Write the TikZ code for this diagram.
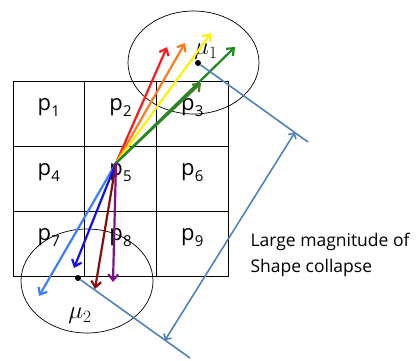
\documentclass[tikz,border=0pt]{standalone}
\usepackage{fontspec}
\setmainfont{Open Sans}
\usepackage{xcolor}
\usetikzlibrary{arrows.meta, positioning, calc}
\definecolor{vecRed}{HTML}{FF1A1A}
\definecolor{vecOrange}{HTML}{FF7A1A}
\definecolor{vecYellow}{HTML}{FFF200}
\definecolor{vecOlive}{HTML}{4E7A2C}
\definecolor{vecGreen}{HTML}{1E8A1E}
\definecolor{vecSky}{HTML}{3F7FFF}
\definecolor{vecBlue}{HTML}{1010F0}
\definecolor{vecMaroon}{HTML}{8B0A0A}
\definecolor{vecPurple}{HTML}{7A1488}
\definecolor{gaugeBlue}{HTML}{4F81BD}
\newcommand{\patch}[1]{p\kern0.3pt\raisebox{-6pt}{\fontsize{15}{15}\selectfont #1}}

\begin{document}
\begin{tikzpicture}[
  x=1pt, y=1pt,
  node distance=0pt,
  cell/.style={draw, rectangle, minimum width=71.7pt, minimum height=65pt, inner sep=0pt, outer sep=0pt, text height=10pt, text depth=17pt, font=\fontsize{22}{24}\selectfont, line width=0.8pt},
  vec/.style={-{Straight Barb[length=6pt, width=10pt]}, line width=2.2pt},
  gauge/.style={line width=1.6pt, draw=gaugeBlue},
  mean/.style={circle, fill=black, inner sep=0pt, minimum size=6pt},
  greek/.style={font=\fontsize{24}{28}\selectfont}
]
\useasboundingbox (0,0) rectangle (417,-360);

% 3x3 patch
\node[cell] (p1) at (48.85,-113.5) {\patch{1}};
\node[cell, right=of p1] (p2) {\patch{2}};
\node[cell, right=of p2] (p3) {\patch{3}};
\node[cell, below=of p1] (p4) {\patch{4}};
\node[cell, right=of p4] (p5) {\patch{5}};
\node[cell, right=of p5] (p6) {\patch{6}};
\node[cell, below=of p4] (p7) {\patch{7}};
\node[cell, right=of p7] (p8) {\patch{8}};
\node[cell, right=of p8] (p9) {\patch{9}};

% clusters
\draw[line width=0.7pt] (193.5,-62.5) ellipse [x radius=65.5, y radius=51.5];
\draw[line width=0.7pt] (87,-281) ellipse [x radius=66, y radius=52];
\node[mean] (m1) at (198,-63) {};
\node[mean] (m2) at (78,-278) {};
\node[greek] (mu1) at (206,-52) {$\mu_1$};
\node[greek] (mu2) at (80,-316) {$\mu_2$};

% vectors out of p5
\coordinate (o) at (116,-163);
\coordinate (tRed) at (167,-47);
\coordinate (tOrange) at (185,-43);
\coordinate (tYellow) at (211,-33);
\coordinate (tOlive) at (201,-83);
\coordinate (tGreen) at (235,-47);
\coordinate (tSky) at (39,-296);
\coordinate (tBlue) at (74,-268);
\coordinate (tMaroon) at (95,-289);
\coordinate (tPurple) at (113,-282);
\draw[vec, vecRed] (o) -- (tRed);
\draw[vec, vecOrange] (o) -- (tOrange);
\draw[vec, vecYellow] (o) -- (tYellow);
\draw[vec, vecOlive] (o) -- (tOlive);
\draw[vec, vecGreen] (o) -- (tGreen);
\draw[vec, vecSky] (o) -- (tSky);
\draw[vec, vecBlue] (o) -- (tBlue);
\draw[vec, vecMaroon] (o) -- (tMaroon);
\draw[vec, vecPurple] (o) -- (tPurple);

% distance between the two means
\coordinate (e1) at (308,-142);
\coordinate (e2) at (190,-358);
\draw[gauge] (m1) -- (e1);
\draw[gauge] (m2) -- (e2);
\draw[gauge, {Straight Barb[length=4pt, width=9pt]}-{Straight Barb[length=4pt, width=9pt]}] ($(m2)!0.777!(e2)$) -- ($(m1)!0.88!(e1)$);
\node[anchor=west, align=left, font=\fontsize{17.5}{26}\selectfont] (note) at (247,-255) {Large magnitude of\\Shape collapse};
\end{tikzpicture}
\end{document}
